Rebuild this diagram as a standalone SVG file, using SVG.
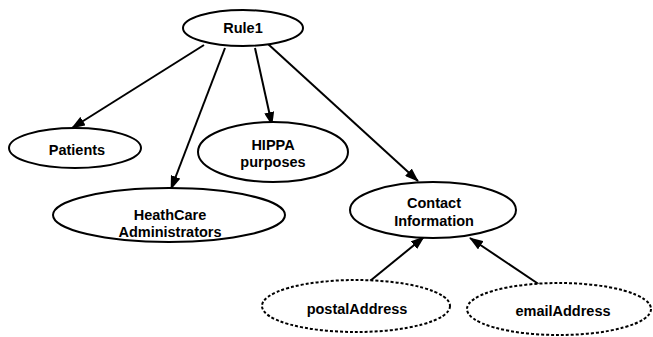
<svg xmlns="http://www.w3.org/2000/svg" width="653" height="337" viewBox="0 0 653 337">
<defs>
<marker id="arr" markerWidth="14" markerHeight="10" refX="13" refY="5" orient="auto" markerUnits="userSpaceOnUse">
<path d="M0,0 L14,5 L0,10 Z" fill="#000"/>
</marker>
<style>
.n{fill:#fff;stroke:#000;stroke-width:2}
.d{fill:#fff;stroke:#000;stroke-width:2;stroke-dasharray:3 2}
.t{font-family:"Liberation Sans",Arial,sans-serif;font-weight:bold;font-size:14.5px;text-anchor:middle;fill:#000}
.e{stroke:#000;stroke-width:2;fill:none;marker-end:url(#arr)}
</style>
</defs>
<rect width="653" height="337" fill="#fff"/>
<g id="edges">
<line class="e" x1="204" y1="45" x2="72" y2="128"/>
<line class="e" x1="225" y1="48" x2="171" y2="189"/>
<line class="e" x1="255" y1="48" x2="272" y2="125"/>
<line class="e" x1="268" y1="44" x2="418" y2="181"/>
<line class="e" x1="370" y1="281" x2="424" y2="237"/>
<line class="e" x1="540" y1="285" x2="470" y2="238"/>
</g>
<g id="rule1"><ellipse class="n" cx="243" cy="28" rx="60" ry="18"/><text class="t" x="243" y="33">Rule1</text></g>
<g id="patients"><ellipse class="n" cx="75" cy="148" rx="66" ry="20"/><text class="t" x="77" y="155">Patients</text></g>
<g id="hippa"><ellipse class="n" cx="273" cy="152" rx="75" ry="30"/><text class="t" x="273" y="150">HIPPA</text><text class="t" x="273" y="167">purposes</text></g>
<g id="healthcare"><ellipse class="n" cx="169" cy="215" rx="116" ry="27"/><text class="t" x="170" y="220">HeathCare</text><text class="t" x="170" y="237">Administrators</text></g>
<g id="contact"><ellipse class="n" cx="433" cy="210" rx="83" ry="28"/><text class="t" x="434" y="208">Contact</text><text class="t" x="434" y="226">Information</text></g>
<g id="postal"><ellipse class="d" cx="356" cy="306" rx="94" ry="26"/><text class="t" x="357" y="314">postalAddress</text></g>
<g id="email"><ellipse class="d" cx="559" cy="309" rx="92" ry="26"/><text class="t" x="563" y="316">emailAddress</text></g>
</svg>
